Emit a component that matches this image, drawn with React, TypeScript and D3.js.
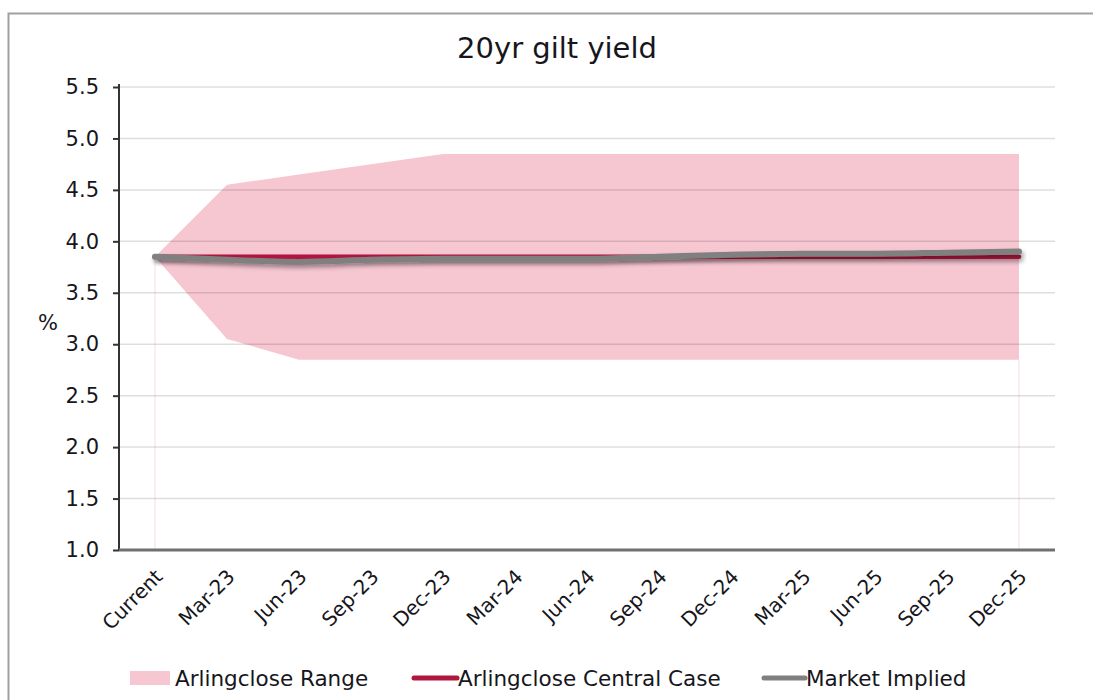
import * as d3 from "d3";
import React, { useEffect, useRef } from "react";

const categories = [
  "Current", "Mar-23", "Jun-23", "Sep-23", "Dec-23", "Mar-24", "Jun-24",
  "Sep-24", "Dec-24", "Mar-25", "Jun-25", "Sep-25", "Dec-25",
];
const rangeUpper = [3.85, 4.55, 4.65, 4.75, 4.85, 4.85, 4.85, 4.85, 4.85, 4.85, 4.85, 4.85, 4.85];
const rangeLower = [3.85, 3.05, 2.85, 2.85, 2.85, 2.85, 2.85, 2.85, 2.85, 2.85, 2.85, 2.85, 2.85];
const centralCase = [3.85, 3.85, 3.85, 3.85, 3.85, 3.85, 3.85, 3.85, 3.85, 3.85, 3.85, 3.85, 3.85];
const marketImplied = [3.85, 3.82, 3.80, 3.82, 3.83, 3.83, 3.83, 3.85, 3.87, 3.88, 3.88, 3.89, 3.90];
const yTicks = [1.0, 1.5, 2.0, 2.5, 3.0, 3.5, 4.0, 4.5, 5.0, 5.5];

const FONT = "'DejaVu Sans', Verdana, sans-serif";
const TEXT = "#16161c";
const PINK = "#f6c6d1";
const RED = "#b0173d";
const GREY = "#808080";

const App = () => {
  const ref = useRef<SVGSVGElement>(null);

  useEffect(() => {
    const svg = d3.select(ref.current);
    svg.selectAll("*").remove();

    const left = 119;
    const right = 1055;
    const top = 87;
    const bottom = 550;

    const x = d3.scaleBand().domain(categories).range([left, right]);
    const cx = (c: string) => (x(c) as number) + x.bandwidth() / 2;
    const y = d3.scaleLinear().domain([1, 5.5]).range([bottom, top]);

    // shadow for the lines (user space so flat lines still render)
    const defs = svg.append("defs");
    const f = defs.append("filter").attr("id", "shadow")
      .attr("filterUnits", "userSpaceOnUse")
      .attr("x", 0).attr("y", 0).attr("width", 1093).attr("height", 700);
    f.append("feDropShadow").attr("dx", 2).attr("dy", 3).attr("stdDeviation", 2)
      .attr("flood-color", "#000").attr("flood-opacity", 0.35);

    // outer frame
    svg.append("rect").attr("x", 8.5).attr("y", 13.5).attr("width", 1200).attr("height", 800)
      .attr("fill", "#fff").attr("stroke", "#a0a0a0").attr("stroke-width", 2);

    // title
    svg.append("text").attr("x", 557).attr("y", 58).attr("text-anchor", "middle")
      .attr("font-family", FONT).attr("font-size", 29).attr("fill", TEXT)
      .text("20yr gilt yield");

    // range area
    const idx = d3.range(categories.length);
    const area = d3.area<number>()
      .x((i) => cx(categories[i]))
      .y0((i) => y(rangeLower[i]))
      .y1((i) => y(rangeUpper[i]));
    svg.append("path").attr("d", area(idx) as string).attr("fill", PINK);

    // faint drop lines at ends
    [0, categories.length - 1].forEach((i) => {
      svg.append("line")
        .attr("x1", cx(categories[i])).attr("x2", cx(categories[i]))
        .attr("y1", y(rangeLower[i])).attr("y2", bottom)
        .attr("stroke", "#f7dde4").attr("stroke-width", 1);
    });

    // gridlines
    svg.append("g").selectAll("line").data(yTicks.slice(1)).enter().append("line")
      .attr("x1", left).attr("x2", right)
      .attr("y1", (d) => y(d)).attr("y2", (d) => y(d))
      .attr("stroke", "rgba(0,0,0,0.13)").attr("stroke-width", 1.5);

    // y axis
    const ya = svg.append("g").attr("transform", `translate(${left},0)`)
      .call(d3.axisLeft(y).tickValues(yTicks).tickFormat(d3.format(".1f")).tickSize(6).tickPadding(14));
    ya.select(".domain").attr("stroke", "#333").attr("stroke-width", 2)
      .attr("d", `M0,${top - 3}V${bottom}`);
    ya.selectAll(".tick line").attr("stroke", "#333").attr("stroke-width", 2);
    ya.selectAll(".tick text").attr("font-family", FONT).attr("font-size", 21)
      .attr("fill", TEXT);

    // x axis line
    svg.append("line").attr("x1", left).attr("x2", right).attr("y1", bottom).attr("y2", bottom)
      .attr("stroke", "#707070").attr("stroke-width", 3);

    // x labels
    svg.append("g").selectAll("text").data(categories).enter().append("text")
      .attr("transform", (d) => `translate(${cx(d) + 5},${bottom + 24}) rotate(-45)`)
      .attr("text-anchor", "end").attr("dominant-baseline", "middle")
      .attr("font-family", FONT).attr("font-size", 20).attr("fill", TEXT)
      .text((d) => d);

    // y label
    svg.append("text").attr("x", 48).attr("y", 330).attr("text-anchor", "middle")
      .attr("font-family", FONT).attr("font-size", 21).attr("fill", TEXT).text("%");

    // lines
    const line = (vals: number[]) => d3.line<number>()
      .x((i) => cx(categories[i]))
      .y((i) => y(vals[i]))
      .curve(d3.curveMonotoneX)(idx) as string;
    svg.append("path").attr("d", line(centralCase)).attr("fill", "none")
      .attr("stroke", RED).attr("stroke-width", 4.5).attr("stroke-linecap", "round")
      .attr("filter", "url(#shadow)");
    svg.append("path").attr("d", line(marketImplied)).attr("fill", "none")
      .attr("stroke", GREY).attr("stroke-width", 6).attr("stroke-linecap", "round")
      .attr("filter", "url(#shadow)");

    // legend
    const ly = 678;
    const lg = svg.append("g");
    lg.append("rect").attr("x", 130).attr("y", ly - 7).attr("width", 40).attr("height", 14).attr("fill", PINK);
    lg.append("text").attr("x", 175).attr("y", ly).attr("dominant-baseline", "central")
      .attr("font-family", FONT).attr("font-size", 21.5).attr("fill", TEXT).text("Arlingclose Range");
    lg.append("line").attr("x1", 414).attr("x2", 457).attr("y1", ly).attr("y2", ly)
      .attr("stroke", RED).attr("stroke-width", 5).attr("stroke-linecap", "round");
    lg.append("text").attr("x", 458).attr("y", ly).attr("dominant-baseline", "central")
      .attr("font-family", FONT).attr("font-size", 21.5).attr("fill", TEXT).text("Arlingclose Central Case");
    lg.append("line").attr("x1", 764).attr("x2", 805).attr("y1", ly).attr("y2", ly)
      .attr("stroke", GREY).attr("stroke-width", 5).attr("stroke-linecap", "round");
    lg.append("text").attr("x", 806).attr("y", ly).attr("dominant-baseline", "central")
      .attr("font-family", FONT).attr("font-size", 21.5).attr("fill", TEXT).text("Market Implied");
  }, []);

  return (
    <svg
      ref={ref}
      width={1093}
      height={700}
      style={{ position: "absolute", left: 0, top: 0, display: "block", background: "#fff" }}
    />
  );
};

export default App;
